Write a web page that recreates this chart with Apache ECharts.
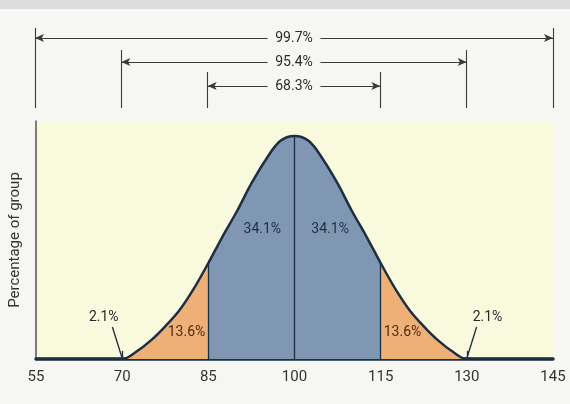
<!DOCTYPE html>
<html><head><meta charset="utf-8">
<script src="https://cdn.jsdelivr.net/npm/echarts@6/dist/echarts.min.js"></script>
<style>html,body{margin:0;padding:0;background:#f6f6f3}#c{width:570px;height:404px}</style>
</head><body><div id="c"></div>
<script>
// ---- data ----
const xTicks = [55, 70, 85, 100, 115, 130, 145];
const curveX = [55, 57.5, 60, 62.5, 65, 67.5, 70, 72.5, 75, 77.5, 80, 82.5, 85, 87.5, 90, 92.5, 95, 97.5, 100,
                102.5, 105, 107.5, 110, 112.5, 115, 117.5, 120, 122.5, 125, 127.5, 130, 132.5, 135, 137.5, 140, 142.5, 145];
const curveY = [0, 0, 0, 0, 0, 0, 0, 0.10, 0.25, 0.44, 0.66, 0.95, 1.29, 1.65, 1.99, 2.36, 2.68, 2.93, 3.0,
                2.93, 2.68, 2.36, 1.99, 1.65, 1.29, 0.95, 0.66, 0.44, 0.25, 0.10, 0, 0, 0, 0, 0, 0, 0];
const bandEdges = [70, 85, 100, 115, 130];
const bandLabels = ['2.1%', '13.6%', '34.1%', '34.1%', '13.6%', '2.1%'];
const spanLabels = ['99.7%', '95.4%', '68.3%'];
const spanFrom = [55, 70, 85];
const spanTo = [145, 130, 115];

// ---- helpers ----
const pts = curveX.map((x, i) => [x, curveY[i]]);
const yAt = x => curveY[curveX.indexOf(x)];
const FONT = "'Roboto', 'Liberation Sans', sans-serif";
const DARK = '#1d2f40';
const ORANGE = '#eeb076';
const BLUE = '#7f97b3';

// label positions (layout only)
const bandLabelPos = [[66.8, 0.56], [81.2, 0.35], [94.4, 1.74], [106.2, 1.74], [118.8, 0.35], [133.6, 0.56]];
const bandLabelColor = ['#2a2a2a', '#4a2e14', DARK, DARK, '#4a2e14', '#2a2a2a'];
const spanLevel = [70, 46, 22];
const spanTop = [80, 58, 36];
const gapHalf = 4.6;

const textPoint = (coord, text, color, size) => ({
  coord: coord, value: 0, symbol: 'circle', symbolSize: 1,
  itemStyle: { color: 'rgba(0,0,0,0)' },
  label: { show: true, position: 'inside', formatter: text, color: color, fontSize: size, fontFamily: FONT }
});

// vertical division lines, small ticks and leaders
const divLines = [];
[85, 100, 115].forEach(x => divLines.push([{ coord: [x, 0] }, { coord: [x, yAt(x)] }]));
[70, 130].forEach(x => divLines.push([{ coord: [x, 0] }, { coord: [x, 0.11] }]));
divLines.push([{ coord: [68.3, 0.43] }, { coord: [70, 0.01] }]);
divLines.push([{ coord: [131.7, 0.43] }, { coord: [130, 0.01] }]);

// top span markers
const spanLines = [];
const spanTexts = [];
spanLabels.forEach((lab, i) => {
  const a = spanFrom[i], b = spanTo[i], mid = (a + b) / 2, lv = spanLevel[i];
  spanLines.push([{ coord: [a, 0], symbol: 'none' }, { coord: [a, spanTop[i]], symbol: 'none' }]);
  spanLines.push([{ coord: [b, 0], symbol: 'none' }, { coord: [b, spanTop[i]], symbol: 'none' }]);
  spanLines.push([{ coord: [a, lv], symbol: 'arrow' }, { coord: [mid - gapHalf, lv], symbol: 'none' }]);
  spanLines.push([{ coord: [mid + gapHalf, lv], symbol: 'none' }, { coord: [b, lv], symbol: 'arrow' }]);
  spanTexts.push(textPoint([mid, lv], lab, '#2b2b2b', 14));
});

const chart = echarts.init(document.getElementById('c'), null, { renderer: 'canvas' });
chart.setOption({
  animation: false,
  backgroundColor: '#f6f6f3',
  graphic: [{ type: 'rect', shape: { x: 0, y: 0, width: 570, height: 9 }, style: { fill: '#dddddd' }, z: -10 }],
  grid: [
    { left: 35, right: 17, top: 121, bottom: 45, show: true, backgroundColor: '#f9f9de', borderWidth: 0 },
    { left: 35, right: 17, top: 28, height: 80 }
  ],
  xAxis: [
    { type: 'value', gridIndex: 0, min: 55, max: 145, interval: 15,
      axisLine: { show: true, onZero: false, lineStyle: { color: DARK, width: 3.5 } },
      axisTick: { show: false }, splitLine: { show: false },
      axisLabel: { color: '#333', fontSize: 15, fontFamily: FONT, margin: 11,
        customValues: xTicks } },
    { type: 'value', gridIndex: 1, min: 55, max: 145, show: false }
  ],
  yAxis: [
    { type: 'value', gridIndex: 0, min: 0, max: 3.2,
      axisLine: { show: true, lineStyle: { color: '#555', width: 1.5 } },
      axisTick: { show: false }, axisLabel: { show: false }, splitLine: { show: false },
      name: 'Percentage of group', nameLocation: 'middle', nameGap: 13, nameRotate: 90,
      nameTextStyle: { color: '#333', fontSize: 15, fontFamily: FONT } },
    { type: 'value', gridIndex: 1, min: 0, max: 80, show: false }
  ],
  visualMap: {
    show: false, type: 'piecewise', seriesIndex: 0, dimension: 0,
    pieces: [
      { lt: bandEdges[1], color: ORANGE },
      { gte: bandEdges[1], lte: bandEdges[3], color: BLUE },
      { gt: bandEdges[3], color: ORANGE }
    ]
  },
  series: [
    { type: 'line', xAxisIndex: 0, yAxisIndex: 0, data: pts, smooth: 0.35, showSymbol: false,
      lineStyle: { width: 0 }, areaStyle: { opacity: 1 }, z: 2, silent: true },
    { type: 'line', xAxisIndex: 0, yAxisIndex: 0, data: pts, smooth: 0.35, showSymbol: false,
      lineStyle: { color: DARK, width: 2.5 }, z: 4, silent: true,
      markLine: { silent: true, symbol: 'none', label: { show: false },
        lineStyle: { color: DARK, width: 1.3, type: 'solid' }, data: divLines },
      markPoint: { silent: true,
        data: bandLabels.map((t, i) => textPoint(bandLabelPos[i], t, bandLabelColor[i], 14)) } },
    { type: 'line', xAxisIndex: 1, yAxisIndex: 1, data: [[100, 0]], showSymbol: false,
      lineStyle: { opacity: 0 }, silent: true,
      markLine: { silent: true, symbolSize: [6, 9], label: { show: false },
        lineStyle: { color: '#3a3a3a', width: 1.1, type: 'solid' }, data: spanLines },
      markPoint: { silent: true, data: spanTexts } }
  ]
});
</script></body></html>
